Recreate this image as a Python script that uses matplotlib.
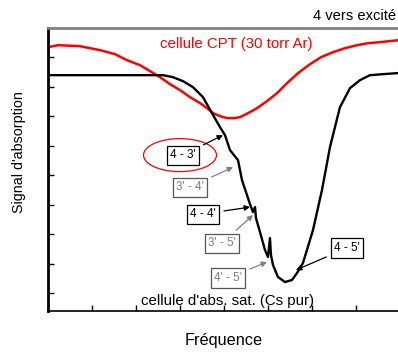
import numpy as np
import matplotlib.pyplot as plt
from matplotlib.patches import Ellipse

plt.rcParams['font.family'] = ['Liberation Sans', 'DejaVu Sans']

# red curve: CPT cell (30 torr Ar)
cpt_x = [0.0, 0.227, 0.727, 1.182, 1.523, 1.795, 2.091, 2.318, 2.545, 2.773, 3.0,
         3.227, 3.455, 3.614, 3.75, 3.909, 4.068, 4.227, 4.364, 4.591, 4.75, 4.977,
         5.205, 5.432, 5.682, 5.955, 6.205, 6.477, 6.75, 7.023, 7.273, 7.545, 7.955]
cpt_y = [8.349, 8.417, 8.383, 8.247, 8.112, 7.908, 7.739, 7.536, 7.332, 7.095, 6.892,
         6.654, 6.451, 6.281, 6.112, 6.01, 5.942, 5.942, 5.976, 6.146, 6.281, 6.519,
         6.79, 7.129, 7.468, 7.773, 8.01, 8.18, 8.315, 8.417, 8.485, 8.519, 8.586]

# black curve: saturated absorption cell (pure Cs)
sat_x = [0.0, 1.182, 2.614, 2.841, 3.068, 3.295, 3.523, 3.727, 3.909, 4.023, 4.136,
         4.318, 4.364, 4.409, 4.591, 4.659, 4.705, 4.727, 4.818, 4.932, 5.0, 5.045,
         5.068, 5.114, 5.227, 5.386, 5.545, 5.659, 5.795, 6.023, 6.227, 6.409, 6.636,
         6.864, 7.091, 7.318, 7.614, 7.932]
sat_y = [7.4, 7.4, 7.4, 7.332, 7.197, 6.993, 6.654, 6.112, 5.637, 5.366, 4.858,
         4.519, 4.18, 3.841, 3.027, 2.756, 2.925, 2.553, 2.078, 1.468, 1.231, 1.875,
         1.298, 0.959, 0.553, 0.383, 0.451, 0.688, 1.027, 2.146, 3.502, 4.959, 6.315,
         6.959, 7.231, 7.4, 7.434, 7.468]

# transition labels: text, box centre, arrow tip, colour
labels = ["4 - 3'", "3' - 4'", "4 - 4'", "3' - 5'", "4' - 5'", "4 - 5'"]
label_x = [3.068, 3.227, 3.523, 3.955, 4.091, 6.795]
label_y = [4.688, 3.603, 2.688, 1.705, 0.519, 1.536]
tip_x = [3.977, 4.205, 4.591, 4.659, 4.977, 5.636]
tip_y = [5.366, 4.281, 2.925, 2.654, 1.061, 0.79]
label_col = ['black', 'gray', 'black', 'gray', 'gray', 'black']

fig = plt.figure(figsize=(3.98, 3.54), dpi=100)
ax = fig.add_axes([48/398, 1 - 311/354, 350/398, 283/354])

ax.plot(cpt_x, cpt_y, color='red', lw=1.8)
ax.plot(sat_x, sat_y, color='black', lw=1.7)

for t, lx, ly, tx, ty, c in zip(labels, label_x, label_y, tip_x, tip_y, label_col):
    ax.annotate(t, xy=(tx, ty), xytext=(lx, ly), fontsize=8.5, color=c,
                ha='center', va='center',
                bbox=dict(boxstyle='square,pad=0.3', fc='white',
                          ec='black' if c == 'black' else '#555555', lw=0.9),
                arrowprops=dict(arrowstyle='-|>', color=c, lw=0.9, mutation_scale=8,
                                shrinkA=3, shrinkB=0))

ax.add_patch(Ellipse((3.0, 4.688), 1.659, 1.119, fill=False, ec='red', lw=0.9))

ax.text(4.273, 8.451, 'cellule CPT (30 torr Ar)', color='red', fontsize=10.8,
        ha='center', va='center')
ax.text(4.091, -0.26, "cellule d'abs. sat. (Cs pur)", color='black', fontsize=10.8,
        ha='center', va='center')
fig.text(396/398, 1 - 16/354, '4 vers excité', fontsize=10.6, ha='right', va='center')

ax.set_xlim(0, 7.955)
ax.set_ylim(-0.6, 9)
ax.set_xticks(np.arange(0, 8))
ax.set_yticks(np.arange(0, 9))
ax.tick_params(direction='in', length=4, width=1, labelbottom=False, labelleft=False)

ax.spines['top'].set_color('#808080')
ax.spines['top'].set_linewidth(2)
ax.spines['left'].set_linewidth(2)
ax.spines['bottom'].set_linewidth(1.2)
ax.spines['right'].set_visible(False)

fig.text(224/398, 1 - 341/354, 'Fréquence', fontsize=11.7, ha='center', va='center')
fig.text(19/398, 1 - 152/354, "Signal d'absorption", fontsize=10.3, rotation=90,
         ha='center', va='center')

fig.savefig('out.png', dpi=100)
